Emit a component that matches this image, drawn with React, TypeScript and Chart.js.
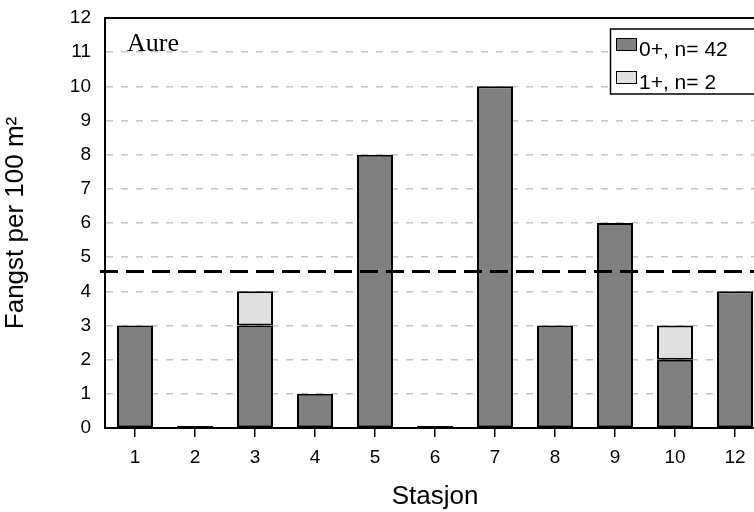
import React, { useEffect, useRef } from "react";
import { Chart, registerables } from "chart.js";

Chart.register(...registerables);

const categories = ["1", "2", "3", "4", "5", "6", "7", "8", "9", "10", "12"];
const series0Label = "0+, n= 42";
const series0 = [3, 0, 3, 1, 8, 0, 10, 3, 6, 2, 4];
const series1Label = "1+, n= 2";
const series1 = [0, 0, 1, 0, 0, 0, 0, 0, 0, 1, 0];
const meanLine = 4.58;
const yTicks = [0, 1, 2, 3, 4, 5, 6, 7, 8, 9, 10, 11, 12];
const panelLabel = "Aure";
const xTitle = "Stasjon";
const yTitle = "Fangst per 100 m²";

const COLOR0 = "#808080";
const COLOR1 = "#e0e0e0";
const SANS = "'Liberation Sans', Arial, sans-serif";

const overlayPlugin = {
  id: "overlay",
  afterDatasetsDraw(chart: any) {
    const { ctx, chartArea, scales } = chart;
    const y = scales.y;
    ctx.save();
    // top frame line
    ctx.strokeStyle = "#000";
    ctx.lineWidth = 2;
    ctx.beginPath();
    ctx.moveTo(chartArea.left - 1, chartArea.top);
    ctx.lineTo(chartArea.right, chartArea.top);
    ctx.stroke();
    // mean dashed line
    const my = y.getPixelForValue(meanLine);
    ctx.lineWidth = 3;
    ctx.setLineDash([18, 8]);
    ctx.beginPath();
    ctx.moveTo(chartArea.left - 5, my);
    ctx.lineTo(chartArea.right + 20, my);
    ctx.stroke();
    ctx.setLineDash([]);
    // panel label
    ctx.fillStyle = "#000";
    ctx.font = "26px 'Liberation Serif', 'Times New Roman', serif";
    ctx.textBaseline = "alphabetic";
    ctx.textAlign = "left";
    ctx.fillText(panelLabel, chartArea.left + 22, chartArea.top + 33);
    // legend
    const bx = 610.5;
    const by = 29;
    const bw = 170;
    const bh = 65;
    ctx.fillStyle = "#fff";
    ctx.fillRect(bx, by, bw, bh);
    ctx.strokeStyle = "#000";
    ctx.lineWidth = 1.5;
    ctx.strokeRect(bx, by, bw, bh);
    const items = [
      { label: series0Label, color: COLOR0 },
      { label: series1Label, color: COLOR1 },
    ];
    ctx.font = "21px " + SANS;
    items.forEach((it, i) => {
      const sy = 38.5 + i * 33;
      ctx.fillStyle = it.color;
      ctx.fillRect(616.5, sy, 20, 12);
      ctx.strokeStyle = "#000";
      ctx.lineWidth = 1;
      ctx.strokeRect(616.5, sy, 20, 12);
      ctx.fillStyle = "#000";
      ctx.fillText(it.label, 639, 56 + i * 32.5);
    });
    ctx.restore();
  },
};

export default function App() {
  const ref = useRef<HTMLCanvasElement | null>(null);
  useEffect(() => {
    if (!ref.current) return;
    const chart = new Chart(ref.current, {
      type: "bar",
      data: {
        labels: categories,
        datasets: [
          {
            label: series0Label,
            data: series0,
            backgroundColor: COLOR0,
            borderColor: "#000",
            borderWidth: 2,
            borderSkipped: false,
            minBarLength: 2,
            barPercentage: 0.6,
            categoryPercentage: 1,
          },
          {
            label: series1Label,
            data: series1,
            backgroundColor: COLOR1,
            borderColor: "#000",
            borderWidth: 2,
            borderSkipped: false,
            barPercentage: 0.6,
            categoryPercentage: 1,
          },
        ],
      },
      options: {
        responsive: false,
        animation: false,
        layout: { padding: { top: 18, right: 15, left: 0, bottom: 0 } },
        plugins: {
          legend: { display: false },
          tooltip: { enabled: false },
        },
        scales: {
          x: {
            stacked: true,
            afterFit: (s: any) => {
              s.height = 84;
              s.paddingLeft = 0;
              s.paddingRight = 0;
            },
            grid: {
              drawOnChartArea: false,
              drawTicks: true,
              tickLength: 9,
              color: "#000",
              lineWidth: 1.5,
              offset: false,
            },
            border: { display: true, color: "#000", width: 2 },
            ticks: {
              color: "#000",
              padding: 9,
              font: { family: SANS, size: 19 },
            },
            title: {
              display: true,
              text: xTitle,
              color: "#000",
              padding: { top: 0, bottom: 0 },
              font: { family: SANS, size: 26 },
            },
          },
          y: {
            stacked: true,
            min: 0,
            max: 12,
            afterFit: (s: any) => {
              s.width = 105;
              s.paddingTop = 0;
              s.paddingBottom = 0;
            },
            afterBuildTicks: (s: any) => {
              s.ticks = yTicks.map((v) => ({ value: v }));
            },
            grid: {
              drawTicks: false,
              color: (c: any) =>
                c.tick && (c.tick.value === 0 || c.tick.value === 12)
                  ? "rgba(0,0,0,0)"
                  : "#c4c4c4",
              lineWidth: 1.5,
            },
            border: { display: true, color: "#000", width: 2, dash: [7, 8] },
            ticks: {
              color: "#000",
              padding: 14,
              font: { family: SANS, size: 19 },
            },
            title: {
              display: true,
              text: yTitle,
              color: "#000",
              padding: { top: 0, bottom: 0 },
              font: { family: SANS, size: 26 },
            },
          },
        },
      },
      plugins: [overlayPlugin],
    });
    return () => chart.destroy();
  }, []);
  return (
    <div
      style={{
        position: "fixed",
        left: 0,
        top: 0,
        width: 754,
        height: 512,
        overflow: "hidden",
        background: "#fff",
      }}
    >
      <canvas
        ref={ref}
        width={780}
        height={512}
        style={{ position: "absolute", left: 0, top: 0, width: 780, height: 512 }}
      />
    </div>
  );
}
